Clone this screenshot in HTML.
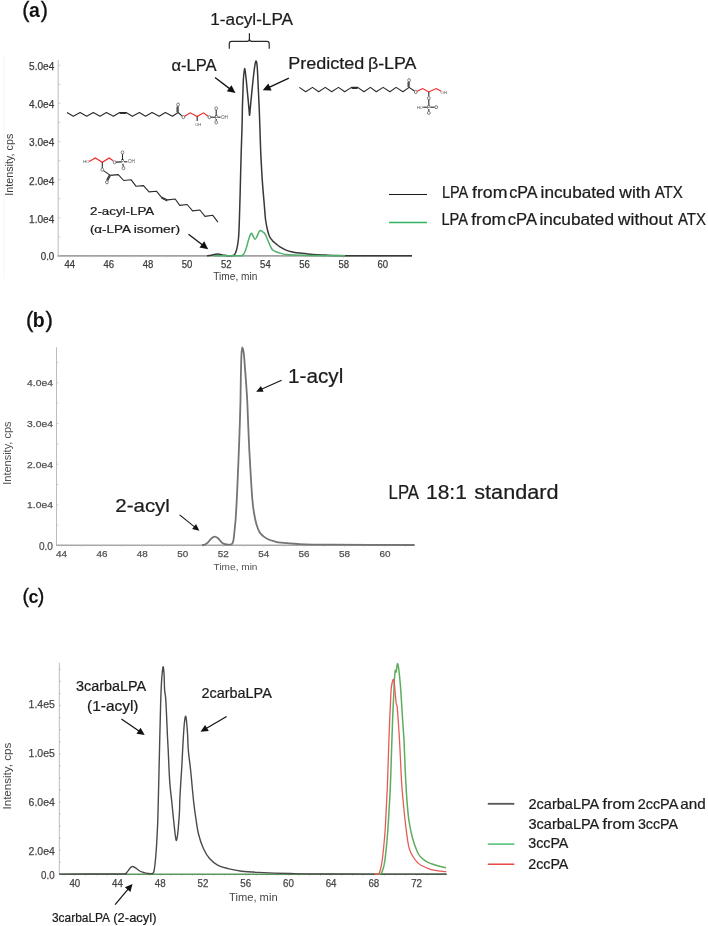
<!DOCTYPE html><html><head><meta charset="utf-8"><style>html,body{margin:0;padding:0;background:#fff;}svg{display:block;filter:blur(0.3px);}text{font-family:"Liberation Sans",sans-serif;}</style></head><body>
<svg width="708" height="926" viewBox="0 0 708 926">
<rect x="0" y="0" width="708" height="926" fill="#fff"/>
<line x1="4" y1="55" x2="4" y2="279" stroke="#f5f5f5" stroke-width="1"/>
<line x1="58.2" y1="60" x2="58.2" y2="256.5" stroke="#c2c2c2" stroke-width="1.1"/>
<line x1="57.6" y1="255.9" x2="412" y2="255.9" stroke="#a2a2a2" stroke-width="1.7"/>
<line x1="58.2" y1="255.8" x2="60.2" y2="255.8" stroke="#c2c2c2" stroke-width="0.8"/>
<line x1="58.2" y1="236.75" x2="60.2" y2="236.75" stroke="#c2c2c2" stroke-width="0.8"/>
<line x1="58.2" y1="217.7" x2="60.2" y2="217.7" stroke="#c2c2c2" stroke-width="0.8"/>
<line x1="58.2" y1="198.65" x2="60.2" y2="198.65" stroke="#c2c2c2" stroke-width="0.8"/>
<line x1="58.2" y1="179.6" x2="60.2" y2="179.6" stroke="#c2c2c2" stroke-width="0.8"/>
<line x1="58.2" y1="160.55" x2="60.2" y2="160.55" stroke="#c2c2c2" stroke-width="0.8"/>
<line x1="58.2" y1="141.5" x2="60.2" y2="141.5" stroke="#c2c2c2" stroke-width="0.8"/>
<line x1="58.2" y1="122.45" x2="60.2" y2="122.45" stroke="#c2c2c2" stroke-width="0.8"/>
<line x1="58.2" y1="103.4" x2="60.2" y2="103.4" stroke="#c2c2c2" stroke-width="0.8"/>
<line x1="58.2" y1="84.35" x2="60.2" y2="84.35" stroke="#c2c2c2" stroke-width="0.8"/>
<line x1="58.2" y1="65.3" x2="60.2" y2="65.3" stroke="#c2c2c2" stroke-width="0.8"/>
<line x1="69.7" y1="255.9" x2="69.7" y2="257.5" stroke="#c2c2c2" stroke-width="0.8"/>
<line x1="89.27" y1="255.9" x2="89.27" y2="257.5" stroke="#c2c2c2" stroke-width="0.8"/>
<line x1="108.84" y1="255.9" x2="108.84" y2="257.5" stroke="#c2c2c2" stroke-width="0.8"/>
<line x1="128.41" y1="255.9" x2="128.41" y2="257.5" stroke="#c2c2c2" stroke-width="0.8"/>
<line x1="147.98" y1="255.9" x2="147.98" y2="257.5" stroke="#c2c2c2" stroke-width="0.8"/>
<line x1="167.55" y1="255.9" x2="167.55" y2="257.5" stroke="#c2c2c2" stroke-width="0.8"/>
<line x1="187.12" y1="255.9" x2="187.12" y2="257.5" stroke="#c2c2c2" stroke-width="0.8"/>
<line x1="206.69" y1="255.9" x2="206.69" y2="257.5" stroke="#c2c2c2" stroke-width="0.8"/>
<line x1="226.26" y1="255.9" x2="226.26" y2="257.5" stroke="#c2c2c2" stroke-width="0.8"/>
<line x1="245.83" y1="255.9" x2="245.83" y2="257.5" stroke="#c2c2c2" stroke-width="0.8"/>
<line x1="265.4" y1="255.9" x2="265.4" y2="257.5" stroke="#c2c2c2" stroke-width="0.8"/>
<line x1="284.97" y1="255.9" x2="284.97" y2="257.5" stroke="#c2c2c2" stroke-width="0.8"/>
<line x1="304.54" y1="255.9" x2="304.54" y2="257.5" stroke="#c2c2c2" stroke-width="0.8"/>
<line x1="324.11" y1="255.9" x2="324.11" y2="257.5" stroke="#c2c2c2" stroke-width="0.8"/>
<line x1="343.68" y1="255.9" x2="343.68" y2="257.5" stroke="#c2c2c2" stroke-width="0.8"/>
<line x1="363.25" y1="255.9" x2="363.25" y2="257.5" stroke="#c2c2c2" stroke-width="0.8"/>
<line x1="382.82" y1="255.9" x2="382.82" y2="257.5" stroke="#c2c2c2" stroke-width="0.8"/>
<line x1="402.39" y1="255.9" x2="402.39" y2="257.5" stroke="#c2c2c2" stroke-width="0.8"/>
<text x="54.3" y="69.9" font-size="10" fill="#3c3c3c" font-weight="normal" text-anchor="end" textLength="25.2" lengthAdjust="spacingAndGlyphs" stroke="#3c3c3c" stroke-width="0.25">5.0e4</text>
<text x="54.3" y="108.2" font-size="10" fill="#3c3c3c" font-weight="normal" text-anchor="end" textLength="25.2" lengthAdjust="spacingAndGlyphs" stroke="#3c3c3c" stroke-width="0.25">4.0e4</text>
<text x="54.3" y="146.3" font-size="10" fill="#3c3c3c" font-weight="normal" text-anchor="end" textLength="25.2" lengthAdjust="spacingAndGlyphs" stroke="#3c3c3c" stroke-width="0.25">3.0e4</text>
<text x="54.3" y="184.5" font-size="10" fill="#3c3c3c" font-weight="normal" text-anchor="end" textLength="25.2" lengthAdjust="spacingAndGlyphs" stroke="#3c3c3c" stroke-width="0.25">2.0e4</text>
<text x="54.3" y="222.6" font-size="10" fill="#3c3c3c" font-weight="normal" text-anchor="end" textLength="25.2" lengthAdjust="spacingAndGlyphs" stroke="#3c3c3c" stroke-width="0.25">1.0e4</text>
<text x="54.3" y="260.4" font-size="10" fill="#3c3c3c" font-weight="normal" text-anchor="end" textLength="13.6" lengthAdjust="spacingAndGlyphs" stroke="#3c3c3c" stroke-width="0.25">0.0</text>
<text x="69.7" y="267.6" font-size="10" fill="#3c3c3c" font-weight="normal" text-anchor="middle" textLength="10.6" lengthAdjust="spacingAndGlyphs" stroke="#3c3c3c" stroke-width="0.25">44</text>
<text x="108.84" y="267.6" font-size="10" fill="#3c3c3c" font-weight="normal" text-anchor="middle" textLength="10.6" lengthAdjust="spacingAndGlyphs" stroke="#3c3c3c" stroke-width="0.25">46</text>
<text x="147.98" y="267.6" font-size="10" fill="#3c3c3c" font-weight="normal" text-anchor="middle" textLength="10.6" lengthAdjust="spacingAndGlyphs" stroke="#3c3c3c" stroke-width="0.25">48</text>
<text x="187.12" y="267.6" font-size="10" fill="#3c3c3c" font-weight="normal" text-anchor="middle" textLength="10.6" lengthAdjust="spacingAndGlyphs" stroke="#3c3c3c" stroke-width="0.25">50</text>
<text x="226.26" y="267.6" font-size="10" fill="#3c3c3c" font-weight="normal" text-anchor="middle" textLength="10.6" lengthAdjust="spacingAndGlyphs" stroke="#3c3c3c" stroke-width="0.25">52</text>
<text x="265.4" y="267.6" font-size="10" fill="#3c3c3c" font-weight="normal" text-anchor="middle" textLength="10.6" lengthAdjust="spacingAndGlyphs" stroke="#3c3c3c" stroke-width="0.25">54</text>
<text x="304.54" y="267.6" font-size="10" fill="#3c3c3c" font-weight="normal" text-anchor="middle" textLength="10.6" lengthAdjust="spacingAndGlyphs" stroke="#3c3c3c" stroke-width="0.25">56</text>
<text x="343.68" y="267.6" font-size="10" fill="#3c3c3c" font-weight="normal" text-anchor="middle" textLength="10.6" lengthAdjust="spacingAndGlyphs" stroke="#3c3c3c" stroke-width="0.25">58</text>
<text x="382.82" y="267.6" font-size="10" fill="#3c3c3c" font-weight="normal" text-anchor="middle" textLength="10.6" lengthAdjust="spacingAndGlyphs" stroke="#3c3c3c" stroke-width="0.25">60</text>
<text x="213.3" y="280" font-size="10.2" fill="#3c3c3c" font-weight="normal" text-anchor="start" textLength="44" lengthAdjust="spacingAndGlyphs">Time, min</text>
<text transform="translate(13.4,195.7) rotate(-90)" x="0" y="0" font-size="10.4" fill="#3c3c3c" textLength="62" lengthAdjust="spacingAndGlyphs">Intensity, cps</text>
<path d="M207,255.8 C207.42,255.77 208.58,255.75 209.5,255.6 C210.42,255.45 211.5,255.12 212.5,254.9 C213.5,254.68 214.58,254.43 215.5,254.3 C216.42,254.17 217.08,254.05 218,254.1 C218.92,254.15 220,254.4 221,254.6 C222,254.8 222.83,255.1 224,255.3 C225.17,255.5 226.5,255.75 228,255.8 C229.5,255.85 231.9,255.8 233,255.6 C234.1,255.4 234.05,255.4 234.6,254.6 C235.15,253.8 235.8,252.4 236.3,250.8 C236.8,249.2 237.22,247.3 237.6,245 C237.98,242.7 238.33,240.33 238.6,237 C238.87,233.67 239.03,229.17 239.2,225 C239.37,220.83 239.45,217 239.6,212 C239.75,207 239.93,201.17 240.1,195 C240.27,188.83 240.43,181.52 240.6,175 C240.77,168.48 240.93,161.73 241.1,155.9 C241.27,150.07 241.43,145.15 241.6,140 C241.77,134.85 241.97,130.33 242.1,125 C242.23,119.67 242.27,113.33 242.4,108 C242.53,102.67 242.73,97.75 242.9,93 C243.07,88.25 243.12,83.57 243.4,79.5 C243.68,75.43 244.17,68.9 244.6,68.6 C245.03,68.3 245.58,74.3 246,77.7 C246.42,81.1 246.73,85.22 247.1,89 C247.47,92.78 247.88,97 248.2,100.4 C248.52,103.8 248.77,106.92 249,109.4 C249.23,111.88 249.38,115.55 249.6,115.3 C249.82,115.05 250,111.02 250.3,107.9 C250.6,104.78 250.97,101 251.4,96.6 C251.83,92.2 252.4,86.17 252.9,81.5 C253.4,76.83 253.9,72.02 254.4,68.6 C254.9,65.18 255.45,61.52 255.9,61 C256.35,60.48 256.78,62.72 257.1,65.5 C257.42,68.28 257.57,73.15 257.8,77.7 C258.03,82.25 258.27,87.77 258.5,92.8 C258.73,97.83 258.98,102.53 259.2,107.9 C259.42,113.27 259.62,119.65 259.8,125 C259.98,130.35 260.12,134.85 260.3,140 C260.48,145.15 260.55,148.92 260.9,155.9 C261.25,162.88 261.83,173.72 262.4,181.9 C262.97,190.08 263.77,198.65 264.3,205 C264.83,211.35 265.07,215.83 265.6,220 C266.13,224.17 266.85,227.25 267.5,230 C268.15,232.75 268.67,234.72 269.5,236.5 C270.33,238.28 271.42,239.48 272.5,240.7 C273.58,241.92 274.75,242.78 276,243.8 C277.25,244.82 278,245.62 280,246.8 C282,247.98 285.17,249.9 288,250.9 C290.83,251.9 294.17,252.35 297,252.8 C299.83,253.25 302.33,253.32 305,253.6 C307.67,253.88 309.67,254.25 313,254.5 C316.33,254.75 321,254.92 325,255.1 C329,255.28 331.17,255.48 337,255.6 C342.83,255.72 347.5,255.77 360,255.8 C372.5,255.83 403.33,255.8 412,255.8" stroke="#383838" stroke-width="1.5" fill="none" stroke-linejoin="round"/>
<path d="M214,255.8 C218.33,255.8 235.28,255.9 240,255.8 C244.72,255.7 241.63,255.57 242.3,255.2 C242.97,254.83 243.47,254.38 244,253.6 C244.53,252.82 245,251.85 245.5,250.5 C246,249.15 246.5,247.25 247,245.5 C247.5,243.75 247.97,241.75 248.5,240 C249.03,238.25 249.68,236.12 250.2,235 C250.72,233.88 251.08,233.05 251.6,233.3 C252.12,233.55 252.73,235.52 253.3,236.5 C253.87,237.48 254.42,239.15 255,239.2 C255.58,239.25 256.18,237.95 256.8,236.8 C257.42,235.65 258.07,233.35 258.7,232.3 C259.33,231.25 259.95,230.58 260.6,230.5 C261.25,230.42 261.95,231.35 262.6,231.8 C263.25,232.25 263.88,232.42 264.5,233.2 C265.12,233.98 265.72,235.25 266.3,236.5 C266.88,237.75 267.42,239.28 268,240.7 C268.58,242.12 269.22,243.7 269.8,245 C270.38,246.3 270.88,247.58 271.5,248.5 C272.12,249.42 272.75,249.95 273.5,250.5 C274.25,251.05 274.92,251.37 276,251.8 C277.08,252.23 278.33,252.65 280,253.1 C281.67,253.55 283.5,254.17 286,254.5 C288.5,254.83 291.17,254.93 295,255.1 C298.83,255.27 301.5,255.38 309,255.5 C316.5,255.62 334,255.75 340,255.8 C346,255.85 344.17,255.8 345,255.8" stroke="#4fb06a" stroke-width="1.5" fill="none" stroke-linejoin="round"/>
<text x="22.3" y="17.2" font-size="21.5" fill="#111" stroke="#111" stroke-width="0.35">(</text>
<text x="28.9" y="17.2" font-size="19.5" fill="#111" font-weight="bold">a</text>
<text x="40.8" y="17.2" font-size="21.5" fill="#111" stroke="#111" stroke-width="0.35">)</text>
<text x="210.3" y="24.6" font-size="16.9" fill="#1c1c1c" font-weight="normal" text-anchor="start" textLength="82.8" lengthAdjust="spacingAndGlyphs" stroke="#1c1c1c" stroke-width="0.22">1-acyl-LPA</text>
<path d="M229.3,48.7 V43.6 Q229.3,41.3 231.6,41.3 H247.1 Q249.4,41.3 249.4,39 V33.3 M249.4,39 Q249.4,41.3 251.7,41.3 H266.9 Q269.2,41.3 269.2,43.6 V48.7" stroke="#2a2a2a" stroke-width="1.2" fill="none"/>
<text x="171.4" y="71.4" font-size="16.3" fill="#1c1c1c" font-weight="normal" text-anchor="start" textLength="45.2" lengthAdjust="spacingAndGlyphs" stroke="#1c1c1c" stroke-width="0.22">&#945;-LPA</text>
<text x="90" y="215" font-size="11.3" fill="#1c1c1c" font-weight="normal" text-anchor="start" textLength="64.2" lengthAdjust="spacingAndGlyphs" stroke="#1c1c1c" stroke-width="0.22">2-acyl-LPA</text>
<line x1="215" y1="77.5" x2="229.93" y2="88.86" stroke="#111" stroke-width="1.3"/>
<path d="M235.5,93.1 L226.77,91.36 L231.5,85.15 Z" fill="#111"/>
<line x1="288.9" y1="78.2" x2="269.06" y2="87.37" stroke="#111" stroke-width="1.3"/>
<path d="M262.7,90.3 L268.33,83.41 L271.6,90.49 Z" fill="#111"/>
<line x1="188.5" y1="234.3" x2="202.62" y2="244.98" stroke="#111" stroke-width="1.3"/>
<path d="M208.2,249.2 L199.47,247.48 L204.17,241.26 Z" fill="#111"/>
<line x1="389" y1="194.5" x2="427" y2="194.5" stroke="#1a1a1a" stroke-width="1.1"/>
<line x1="389" y1="222.5" x2="427" y2="222.5" stroke="#33b35e" stroke-width="1.3"/>
<path d="M67,112.5 L73.3,116.3 L80.1,112.5 L86.7,116.3 L93.3,112.5 L100,116.3 L106.4,112.5 L113.4,116.3 L119.7,112.5 L126.1,112.5 L132.4,116.3 L139.4,112.5 L145.5,116.3 L152.1,112.5 L159.1,116.3 L165.4,112.5 L172.4,116.3 L178.1,112.5" stroke="#2a2a2a" stroke-width="1.1" fill="none" stroke-linejoin="round"/>
<line x1="119.7" y1="113.4" x2="126.1" y2="113.4" stroke="#2a2a2a" stroke-width="1.1"/>
<line x1="178.1" y1="112.5" x2="178.1" y2="106.2" stroke="#2a2a2a" stroke-width="1.1"/>
<line x1="177.1" y1="112" x2="177.1" y2="106.5" stroke="#2a2a2a" stroke-width="1.1"/>
<ellipse cx="178.1" cy="104.6" rx="1.4" ry="1.55" fill="#fff" stroke="#555" stroke-width="0.75"/>
<line x1="178.1" y1="112.5" x2="182.3" y2="116.2" stroke="#2a2a2a" stroke-width="1.1"/>
<ellipse cx="183.4" cy="117.1" rx="1.4" ry="1.55" fill="#fff" stroke="#555" stroke-width="0.75"/>
<path d="M184.7,116.2 L190.2,112.8 L197.2,116.5 L203.5,112.8 L208.2,116.3" stroke="#ee2424" stroke-width="1.1" fill="none"/>
<line x1="197.2" y1="116.5" x2="197.2" y2="121" stroke="#2a2a2a" stroke-width="1.1"/>
<text x="198.2" y="125.6" font-size="4.2" fill="#555" text-anchor="middle">OH</text>
<ellipse cx="209.4" cy="117.2" rx="1.4" ry="1.55" fill="#fff" stroke="#555" stroke-width="0.75"/>
<line x1="210.8" y1="117.2" x2="215" y2="117.2" stroke="#2a2a2a" stroke-width="1.1"/>
<text x="216.2" y="118.8" font-size="4.6" fill="#2a2a2a" text-anchor="middle">P</text>
<line x1="216.2" y1="115.4" x2="216.2" y2="110" stroke="#2a2a2a" stroke-width="1.1"/>
<ellipse cx="216.2" cy="108.4" rx="1.4" ry="1.55" fill="#fff" stroke="#555" stroke-width="0.75"/>
<line x1="216.2" y1="119" x2="216.2" y2="120.8" stroke="#2a2a2a" stroke-width="1.1"/>
<ellipse cx="216.2" cy="122.4" rx="1.4" ry="1.55" fill="#fff" stroke="#555" stroke-width="0.75"/>
<line x1="217.6" y1="117.2" x2="220.6" y2="117.2" stroke="#2a2a2a" stroke-width="1.1"/>
<text x="224.4" y="118.8" font-size="4.6" fill="#555" text-anchor="middle">OH</text>
<path d="M299.3,87.4 L305.7,91.7 L312.5,87.4 L318.7,91.7 L325.3,87.4 L331.7,91.7 L338.5,87.4 L344.7,91.7 L351.5,87.4 L357.7,87.4 L363.9,91.7 L370.4,87.4 L376.3,91.7 L383.1,87.4 L389.9,91.7 L396.1,87.4 L402.9,91.7 L409.1,87.4" stroke="#2a2a2a" stroke-width="1.1" fill="none" stroke-linejoin="round"/>
<line x1="351.5" y1="88.4" x2="357.7" y2="88.4" stroke="#2a2a2a" stroke-width="1.1"/>
<line x1="409.1" y1="87.4" x2="409.1" y2="81.8" stroke="#2a2a2a" stroke-width="1.1"/>
<line x1="408.1" y1="87" x2="408.1" y2="82" stroke="#2a2a2a" stroke-width="1.1"/>
<ellipse cx="409.1" cy="80.2" rx="1.4" ry="1.55" fill="#fff" stroke="#555" stroke-width="0.75"/>
<line x1="409.1" y1="87.4" x2="414.5" y2="91" stroke="#2a2a2a" stroke-width="1.1"/>
<ellipse cx="415.8" cy="92" rx="1.4" ry="1.55" fill="#fff" stroke="#555" stroke-width="0.75"/>
<path d="M417.1,91.2 L422.6,88.6 L428.8,92 L436.2,88.6 L441.2,91.3" stroke="#ee2424" stroke-width="1.1" fill="none"/>
<text x="443.8" y="94" font-size="4.4" fill="#555" text-anchor="middle">OH</text>
<line x1="428.8" y1="92" x2="428.8" y2="96.6" stroke="#2a2a2a" stroke-width="1.1"/>
<ellipse cx="428.8" cy="98.2" rx="1.4" ry="1.55" fill="#fff" stroke="#555" stroke-width="0.75"/>
<line x1="428.8" y1="99.8" x2="428.8" y2="105.3" stroke="#2a2a2a" stroke-width="1.1"/>
<text x="428.8" y="108.8" font-size="4.6" fill="#2a2a2a" text-anchor="middle">P</text>
<line x1="423.2" y1="107.2" x2="427.4" y2="107.2" stroke="#2a2a2a" stroke-width="1.1"/>
<text x="420" y="108.8" font-size="4.4" fill="#555" text-anchor="middle">HO</text>
<line x1="430.2" y1="107.2" x2="434.6" y2="107.2" stroke="#2a2a2a" stroke-width="1.1"/>
<ellipse cx="436.2" cy="107.2" rx="1.4" ry="1.55" fill="#fff" stroke="#555" stroke-width="0.75"/>
<line x1="428.8" y1="109" x2="428.8" y2="111.3" stroke="#2a2a2a" stroke-width="1.1"/>
<ellipse cx="428.8" cy="112.9" rx="1.4" ry="1.55" fill="#fff" stroke="#555" stroke-width="0.75"/>
<text x="86.2" y="163.4" font-size="4.4" fill="#555" text-anchor="middle">HO</text>
<path d="M89.2,161.5 L95.3,158 L102.3,162.3 L109.2,158 L113.2,160.8" stroke="#ee2424" stroke-width="1.1" fill="none"/>
<ellipse cx="114.6" cy="162.3" rx="1.4" ry="1.55" fill="#fff" stroke="#555" stroke-width="0.75"/>
<line x1="116" y1="162.1" x2="121.2" y2="161.9" stroke="#2a2a2a" stroke-width="1.1"/>
<text x="122.5" y="163.4" font-size="4.6" fill="#2a2a2a" text-anchor="middle">P</text>
<line x1="122.5" y1="160" x2="122.5" y2="154" stroke="#2a2a2a" stroke-width="1.1"/>
<ellipse cx="122.5" cy="152.4" rx="1.4" ry="1.55" fill="#fff" stroke="#555" stroke-width="0.75"/>
<line x1="122.8" y1="163.6" x2="123.3" y2="166.6" stroke="#2a2a2a" stroke-width="1.1"/>
<ellipse cx="123.5" cy="168.2" rx="1.4" ry="1.55" fill="#fff" stroke="#555" stroke-width="0.75"/>
<line x1="124" y1="161.8" x2="127.4" y2="161.8" stroke="#2a2a2a" stroke-width="1.1"/>
<text x="131.4" y="163.4" font-size="4.6" fill="#555" text-anchor="middle">OH</text>
<line x1="102.3" y1="162.3" x2="102.3" y2="168.1" stroke="#2a2a2a" stroke-width="1.1"/>
<ellipse cx="102.3" cy="169.6" rx="1.4" ry="1.55" fill="#fff" stroke="#555" stroke-width="0.75"/>
<line x1="103.5" y1="170.6" x2="110.4" y2="175.4" stroke="#2a2a2a" stroke-width="1.1"/>
<line x1="110.4" y1="175.4" x2="107.6" y2="180.7" stroke="#2a2a2a" stroke-width="1.1"/>
<line x1="109.4" y1="175" x2="106.6" y2="180.3" stroke="#2a2a2a" stroke-width="1.1"/>
<ellipse cx="106.9" cy="182.3" rx="1.4" ry="1.55" fill="#fff" stroke="#555" stroke-width="0.75"/>
<path d="M110.4,175.4 L118.3,174.6 L123.7,180.5 L131.2,179.8 L136.1,186.3 L143.5,185.6 L149,191.9 L156.4,191.2 L161.3,197.1 L167.8,199.9 L175.2,199 L179.7,205.4 L187.1,204.5 L192.6,210.9 L199.9,210 L205,216.4 L212.8,215.3 L217.9,222.1" stroke="#2a2a2a" stroke-width="1.1" fill="none" stroke-linejoin="round"/>
<line x1="161.3" y1="198.1" x2="167.3" y2="200.9" stroke="#2a2a2a" stroke-width="1.1"/>
<line x1="56.5" y1="347.3" x2="56.5" y2="545.8" stroke="#bdbdbd" stroke-width="1"/>
<line x1="56" y1="545.2" x2="414.7" y2="545.2" stroke="#a8a8a8" stroke-width="1.5"/>
<line x1="56.5" y1="545.6" x2="58.3" y2="545.6" stroke="#bdbdbd" stroke-width="0.8"/>
<line x1="56.5" y1="525.25" x2="58.3" y2="525.25" stroke="#bdbdbd" stroke-width="0.8"/>
<line x1="56.5" y1="504.9" x2="58.3" y2="504.9" stroke="#bdbdbd" stroke-width="0.8"/>
<line x1="56.5" y1="484.55" x2="58.3" y2="484.55" stroke="#bdbdbd" stroke-width="0.8"/>
<line x1="56.5" y1="464.2" x2="58.3" y2="464.2" stroke="#bdbdbd" stroke-width="0.8"/>
<line x1="56.5" y1="443.85" x2="58.3" y2="443.85" stroke="#bdbdbd" stroke-width="0.8"/>
<line x1="56.5" y1="423.5" x2="58.3" y2="423.5" stroke="#bdbdbd" stroke-width="0.8"/>
<line x1="56.5" y1="403.15" x2="58.3" y2="403.15" stroke="#bdbdbd" stroke-width="0.8"/>
<line x1="56.5" y1="382.8" x2="58.3" y2="382.8" stroke="#bdbdbd" stroke-width="0.8"/>
<line x1="56.5" y1="362.45" x2="58.3" y2="362.45" stroke="#bdbdbd" stroke-width="0.8"/>
<line x1="61.5" y1="545.2" x2="61.5" y2="546.8" stroke="#bdbdbd" stroke-width="0.7"/>
<line x1="81.72" y1="545.2" x2="81.72" y2="546.8" stroke="#bdbdbd" stroke-width="0.7"/>
<line x1="101.94" y1="545.2" x2="101.94" y2="546.8" stroke="#bdbdbd" stroke-width="0.7"/>
<line x1="122.16" y1="545.2" x2="122.16" y2="546.8" stroke="#bdbdbd" stroke-width="0.7"/>
<line x1="142.38" y1="545.2" x2="142.38" y2="546.8" stroke="#bdbdbd" stroke-width="0.7"/>
<line x1="162.6" y1="545.2" x2="162.6" y2="546.8" stroke="#bdbdbd" stroke-width="0.7"/>
<line x1="182.82" y1="545.2" x2="182.82" y2="546.8" stroke="#bdbdbd" stroke-width="0.7"/>
<line x1="203.04" y1="545.2" x2="203.04" y2="546.8" stroke="#bdbdbd" stroke-width="0.7"/>
<line x1="223.26" y1="545.2" x2="223.26" y2="546.8" stroke="#bdbdbd" stroke-width="0.7"/>
<line x1="243.48" y1="545.2" x2="243.48" y2="546.8" stroke="#bdbdbd" stroke-width="0.7"/>
<line x1="263.7" y1="545.2" x2="263.7" y2="546.8" stroke="#bdbdbd" stroke-width="0.7"/>
<line x1="283.92" y1="545.2" x2="283.92" y2="546.8" stroke="#bdbdbd" stroke-width="0.7"/>
<line x1="304.14" y1="545.2" x2="304.14" y2="546.8" stroke="#bdbdbd" stroke-width="0.7"/>
<line x1="324.36" y1="545.2" x2="324.36" y2="546.8" stroke="#bdbdbd" stroke-width="0.7"/>
<line x1="344.58" y1="545.2" x2="344.58" y2="546.8" stroke="#bdbdbd" stroke-width="0.7"/>
<line x1="364.8" y1="545.2" x2="364.8" y2="546.8" stroke="#bdbdbd" stroke-width="0.7"/>
<line x1="385.02" y1="545.2" x2="385.02" y2="546.8" stroke="#bdbdbd" stroke-width="0.7"/>
<line x1="405.24" y1="545.2" x2="405.24" y2="546.8" stroke="#bdbdbd" stroke-width="0.7"/>
<text x="52.9" y="386.3" font-size="9.9" fill="#505050" font-weight="normal" text-anchor="end" textLength="25.8" lengthAdjust="spacingAndGlyphs" stroke="#505050" stroke-width="0.25">4.0e4</text>
<text x="52.9" y="427" font-size="9.9" fill="#505050" font-weight="normal" text-anchor="end" textLength="25.8" lengthAdjust="spacingAndGlyphs" stroke="#505050" stroke-width="0.25">3.0e4</text>
<text x="52.9" y="467.7" font-size="9.9" fill="#505050" font-weight="normal" text-anchor="end" textLength="25.8" lengthAdjust="spacingAndGlyphs" stroke="#505050" stroke-width="0.25">2.0e4</text>
<text x="52.9" y="508.4" font-size="9.9" fill="#505050" font-weight="normal" text-anchor="end" textLength="25.8" lengthAdjust="spacingAndGlyphs" stroke="#505050" stroke-width="0.25">1.0e4</text>
<text x="52.9" y="549.6" font-size="10" fill="#505050" font-weight="normal" text-anchor="end" textLength="14" lengthAdjust="spacingAndGlyphs" stroke="#505050" stroke-width="0.25">0.0</text>
<text x="61.5" y="556.8" font-size="9.6" fill="#505050" font-weight="normal" text-anchor="middle" textLength="11" lengthAdjust="spacingAndGlyphs" stroke="#505050" stroke-width="0.25">44</text>
<text x="101.94" y="556.8" font-size="9.6" fill="#505050" font-weight="normal" text-anchor="middle" textLength="11" lengthAdjust="spacingAndGlyphs" stroke="#505050" stroke-width="0.25">46</text>
<text x="142.38" y="556.8" font-size="9.6" fill="#505050" font-weight="normal" text-anchor="middle" textLength="11" lengthAdjust="spacingAndGlyphs" stroke="#505050" stroke-width="0.25">48</text>
<text x="182.82" y="556.8" font-size="9.6" fill="#505050" font-weight="normal" text-anchor="middle" textLength="11" lengthAdjust="spacingAndGlyphs" stroke="#505050" stroke-width="0.25">50</text>
<text x="223.26" y="556.8" font-size="9.6" fill="#505050" font-weight="normal" text-anchor="middle" textLength="11" lengthAdjust="spacingAndGlyphs" stroke="#505050" stroke-width="0.25">52</text>
<text x="263.7" y="556.8" font-size="9.6" fill="#505050" font-weight="normal" text-anchor="middle" textLength="11" lengthAdjust="spacingAndGlyphs" stroke="#505050" stroke-width="0.25">54</text>
<text x="304.14" y="556.8" font-size="9.6" fill="#505050" font-weight="normal" text-anchor="middle" textLength="11" lengthAdjust="spacingAndGlyphs" stroke="#505050" stroke-width="0.25">56</text>
<text x="344.58" y="556.8" font-size="9.6" fill="#505050" font-weight="normal" text-anchor="middle" textLength="11" lengthAdjust="spacingAndGlyphs" stroke="#505050" stroke-width="0.25">58</text>
<text x="385.02" y="556.8" font-size="9.6" fill="#505050" font-weight="normal" text-anchor="middle" textLength="11" lengthAdjust="spacingAndGlyphs" stroke="#505050" stroke-width="0.25">60</text>
<text x="213.6" y="570" font-size="9.6" fill="#505050" font-weight="normal" text-anchor="start" textLength="43.9" lengthAdjust="spacingAndGlyphs">Time, min</text>
<text transform="translate(11.2,484.8) rotate(-90)" x="0" y="0" font-size="10" fill="#505050" textLength="63.4" lengthAdjust="spacingAndGlyphs">Intensity, cps</text>
<path d="M202,545 C202.47,544.93 203.8,545.05 204.8,544.6 C205.8,544.15 206.93,543.3 208,542.3 C209.07,541.3 210.1,539.55 211.2,538.6 C212.3,537.65 213.47,536.67 214.6,536.6 C215.73,536.53 216.93,537.37 218,538.2 C219.07,539.03 220.1,540.7 221,541.6 C221.9,542.5 222.4,543.12 223.4,543.6 C224.4,544.08 225.65,544.38 227,544.5 C228.35,544.62 230.45,544.88 231.5,544.3 C232.55,543.72 232.8,543.22 233.3,541 C233.8,538.78 234.1,534.8 234.5,531 C234.9,527.2 235.28,524.2 235.7,518.2 C236.12,512.2 236.55,504.37 237,495 C237.45,485.63 237.93,473.67 238.4,462 C238.87,450.33 239.45,435.33 239.8,425 C240.15,414.67 240.33,407.5 240.5,400 C240.67,392.5 240.7,385.68 240.8,380 C240.9,374.32 240.98,370.23 241.1,365.9 C241.22,361.57 241.3,357.08 241.5,354 C241.7,350.92 241.92,347.48 242.3,347.4 C242.68,347.32 243.38,350.42 243.8,353.5 C244.22,356.58 244.47,361.67 244.8,365.9 C245.13,370.13 245.4,373.22 245.8,378.9 C246.2,384.58 246.83,393.15 247.2,400 C247.57,406.85 247.65,411.67 248,420 C248.35,428.33 248.83,440.65 249.3,450 C249.77,459.35 250.28,467.77 250.8,476.1 C251.32,484.43 251.83,493.68 252.4,500 C252.97,506.32 253.52,509.92 254.2,514 C254.88,518.08 255.6,521.45 256.5,524.5 C257.4,527.55 258.43,530.32 259.6,532.3 C260.77,534.28 262.1,535.25 263.5,536.4 C264.9,537.55 266.25,538.4 268,539.2 C269.75,540 271.8,540.62 274,541.2 C276.2,541.78 277.2,542.23 281.2,542.7 C285.2,543.17 289.87,543.67 298,544 C306.13,544.33 310.58,544.53 330,544.7 C349.42,544.87 400.42,544.95 414.5,545" stroke="#747474" stroke-width="1.8" fill="none" stroke-linejoin="round"/>
<text x="26" y="326.8" font-size="22.2" fill="#111" stroke="#111" stroke-width="0.35">(</text>
<text x="32.8" y="326.8" font-size="19.5" fill="#111" font-weight="bold">b</text>
<text x="45.6" y="326.8" font-size="22.2" fill="#111" stroke="#111" stroke-width="0.35">)</text>
<text x="288.1" y="382.6" font-size="19.4" fill="#1c1c1c" font-weight="normal" text-anchor="start" textLength="55.2" lengthAdjust="spacingAndGlyphs" stroke="#1c1c1c" stroke-width="0.22">1-acyl</text>
<text x="115.3" y="512" font-size="18.2" fill="#1c1c1c" font-weight="normal" text-anchor="start" textLength="54.6" lengthAdjust="spacingAndGlyphs" stroke="#1c1c1c" stroke-width="0.22">2-acyl</text>
<line x1="281.6" y1="380.2" x2="261.39" y2="389.32" stroke="#111" stroke-width="1.05"/>
<path d="M256.1,391.7 L261.02,386.08 L263.57,391.73 Z" fill="#111"/>
<line x1="179.6" y1="514.9" x2="194.87" y2="527.08" stroke="#111" stroke-width="1.05"/>
<path d="M199.4,530.7 L192.15,528.88 L196.02,524.04 Z" fill="#111"/>
<line x1="59.3" y1="662.7" x2="59.3" y2="874.6" stroke="#bcbcbc" stroke-width="1"/>
<line x1="59.3" y1="874.4" x2="61" y2="874.4" stroke="#bcbcbc" stroke-width="0.8"/>
<line x1="59.3" y1="862.34" x2="61" y2="862.34" stroke="#bcbcbc" stroke-width="0.8"/>
<line x1="59.3" y1="850.28" x2="61" y2="850.28" stroke="#bcbcbc" stroke-width="0.8"/>
<line x1="59.3" y1="838.22" x2="61" y2="838.22" stroke="#bcbcbc" stroke-width="0.8"/>
<line x1="59.3" y1="826.16" x2="61" y2="826.16" stroke="#bcbcbc" stroke-width="0.8"/>
<line x1="59.3" y1="814.1" x2="61" y2="814.1" stroke="#bcbcbc" stroke-width="0.8"/>
<line x1="59.3" y1="802.04" x2="61" y2="802.04" stroke="#bcbcbc" stroke-width="0.8"/>
<line x1="59.3" y1="789.98" x2="61" y2="789.98" stroke="#bcbcbc" stroke-width="0.8"/>
<line x1="59.3" y1="777.92" x2="61" y2="777.92" stroke="#bcbcbc" stroke-width="0.8"/>
<line x1="59.3" y1="765.86" x2="61" y2="765.86" stroke="#bcbcbc" stroke-width="0.8"/>
<line x1="59.3" y1="753.8" x2="61" y2="753.8" stroke="#bcbcbc" stroke-width="0.8"/>
<line x1="59.3" y1="741.74" x2="61" y2="741.74" stroke="#bcbcbc" stroke-width="0.8"/>
<line x1="59.3" y1="729.68" x2="61" y2="729.68" stroke="#bcbcbc" stroke-width="0.8"/>
<line x1="59.3" y1="717.62" x2="61" y2="717.62" stroke="#bcbcbc" stroke-width="0.8"/>
<line x1="59.3" y1="705.56" x2="61" y2="705.56" stroke="#bcbcbc" stroke-width="0.8"/>
<line x1="59.3" y1="693.5" x2="61" y2="693.5" stroke="#bcbcbc" stroke-width="0.8"/>
<line x1="59.3" y1="681.44" x2="61" y2="681.44" stroke="#bcbcbc" stroke-width="0.8"/>
<line x1="59.3" y1="669.38" x2="61" y2="669.38" stroke="#bcbcbc" stroke-width="0.8"/>
<line x1="64.12" y1="874.2" x2="64.12" y2="875.8" stroke="#bcbcbc" stroke-width="0.7"/>
<line x1="74.8" y1="874.2" x2="74.8" y2="875.8" stroke="#bcbcbc" stroke-width="0.7"/>
<line x1="85.48" y1="874.2" x2="85.48" y2="875.8" stroke="#bcbcbc" stroke-width="0.7"/>
<line x1="96.16" y1="874.2" x2="96.16" y2="875.8" stroke="#bcbcbc" stroke-width="0.7"/>
<line x1="106.84" y1="874.2" x2="106.84" y2="875.8" stroke="#bcbcbc" stroke-width="0.7"/>
<line x1="117.52" y1="874.2" x2="117.52" y2="875.8" stroke="#bcbcbc" stroke-width="0.7"/>
<line x1="128.2" y1="874.2" x2="128.2" y2="875.8" stroke="#bcbcbc" stroke-width="0.7"/>
<line x1="138.88" y1="874.2" x2="138.88" y2="875.8" stroke="#bcbcbc" stroke-width="0.7"/>
<line x1="149.56" y1="874.2" x2="149.56" y2="875.8" stroke="#bcbcbc" stroke-width="0.7"/>
<line x1="160.24" y1="874.2" x2="160.24" y2="875.8" stroke="#bcbcbc" stroke-width="0.7"/>
<line x1="170.92" y1="874.2" x2="170.92" y2="875.8" stroke="#bcbcbc" stroke-width="0.7"/>
<line x1="181.6" y1="874.2" x2="181.6" y2="875.8" stroke="#bcbcbc" stroke-width="0.7"/>
<line x1="192.28" y1="874.2" x2="192.28" y2="875.8" stroke="#bcbcbc" stroke-width="0.7"/>
<line x1="202.96" y1="874.2" x2="202.96" y2="875.8" stroke="#bcbcbc" stroke-width="0.7"/>
<line x1="213.64" y1="874.2" x2="213.64" y2="875.8" stroke="#bcbcbc" stroke-width="0.7"/>
<line x1="224.32" y1="874.2" x2="224.32" y2="875.8" stroke="#bcbcbc" stroke-width="0.7"/>
<line x1="235" y1="874.2" x2="235" y2="875.8" stroke="#bcbcbc" stroke-width="0.7"/>
<line x1="245.68" y1="874.2" x2="245.68" y2="875.8" stroke="#bcbcbc" stroke-width="0.7"/>
<line x1="256.36" y1="874.2" x2="256.36" y2="875.8" stroke="#bcbcbc" stroke-width="0.7"/>
<line x1="267.04" y1="874.2" x2="267.04" y2="875.8" stroke="#bcbcbc" stroke-width="0.7"/>
<line x1="277.72" y1="874.2" x2="277.72" y2="875.8" stroke="#bcbcbc" stroke-width="0.7"/>
<line x1="288.4" y1="874.2" x2="288.4" y2="875.8" stroke="#bcbcbc" stroke-width="0.7"/>
<line x1="299.08" y1="874.2" x2="299.08" y2="875.8" stroke="#bcbcbc" stroke-width="0.7"/>
<line x1="309.76" y1="874.2" x2="309.76" y2="875.8" stroke="#bcbcbc" stroke-width="0.7"/>
<line x1="320.44" y1="874.2" x2="320.44" y2="875.8" stroke="#bcbcbc" stroke-width="0.7"/>
<line x1="331.12" y1="874.2" x2="331.12" y2="875.8" stroke="#bcbcbc" stroke-width="0.7"/>
<line x1="341.8" y1="874.2" x2="341.8" y2="875.8" stroke="#bcbcbc" stroke-width="0.7"/>
<line x1="352.48" y1="874.2" x2="352.48" y2="875.8" stroke="#bcbcbc" stroke-width="0.7"/>
<line x1="363.16" y1="874.2" x2="363.16" y2="875.8" stroke="#bcbcbc" stroke-width="0.7"/>
<line x1="373.84" y1="874.2" x2="373.84" y2="875.8" stroke="#bcbcbc" stroke-width="0.7"/>
<line x1="384.52" y1="874.2" x2="384.52" y2="875.8" stroke="#bcbcbc" stroke-width="0.7"/>
<line x1="395.2" y1="874.2" x2="395.2" y2="875.8" stroke="#bcbcbc" stroke-width="0.7"/>
<line x1="405.88" y1="874.2" x2="405.88" y2="875.8" stroke="#bcbcbc" stroke-width="0.7"/>
<line x1="416.56" y1="874.2" x2="416.56" y2="875.8" stroke="#bcbcbc" stroke-width="0.7"/>
<line x1="427.24" y1="874.2" x2="427.24" y2="875.8" stroke="#bcbcbc" stroke-width="0.7"/>
<line x1="437.92" y1="874.2" x2="437.92" y2="875.8" stroke="#bcbcbc" stroke-width="0.7"/>
<text x="54.8" y="707.7" font-size="10.8" fill="#464646" font-weight="normal" text-anchor="end" textLength="26.2" lengthAdjust="spacingAndGlyphs" stroke="#464646" stroke-width="0.25">1.4e5</text>
<text x="54.8" y="756.7" font-size="10.8" fill="#464646" font-weight="normal" text-anchor="end" textLength="26.2" lengthAdjust="spacingAndGlyphs" stroke="#464646" stroke-width="0.25">1.0e5</text>
<text x="54.8" y="805.8" font-size="10.8" fill="#464646" font-weight="normal" text-anchor="end" textLength="26.2" lengthAdjust="spacingAndGlyphs" stroke="#464646" stroke-width="0.25">6.0e4</text>
<text x="54.8" y="855" font-size="10.8" fill="#464646" font-weight="normal" text-anchor="end" textLength="26.2" lengthAdjust="spacingAndGlyphs" stroke="#464646" stroke-width="0.25">2.0e4</text>
<text x="54.6" y="879.1" font-size="10.8" fill="#464646" font-weight="normal" text-anchor="end" textLength="13.5" lengthAdjust="spacingAndGlyphs" stroke="#464646" stroke-width="0.25">0.0</text>
<text x="74.8" y="886.9" font-size="10.2" fill="#464646" font-weight="normal" text-anchor="middle" textLength="10.8" lengthAdjust="spacingAndGlyphs" stroke="#464646" stroke-width="0.25">40</text>
<text x="117.52" y="886.9" font-size="10.2" fill="#464646" font-weight="normal" text-anchor="middle" textLength="10.8" lengthAdjust="spacingAndGlyphs" stroke="#464646" stroke-width="0.25">44</text>
<text x="160.24" y="886.9" font-size="10.2" fill="#464646" font-weight="normal" text-anchor="middle" textLength="10.8" lengthAdjust="spacingAndGlyphs" stroke="#464646" stroke-width="0.25">48</text>
<text x="202.96" y="886.9" font-size="10.2" fill="#464646" font-weight="normal" text-anchor="middle" textLength="10.8" lengthAdjust="spacingAndGlyphs" stroke="#464646" stroke-width="0.25">52</text>
<text x="245.68" y="886.9" font-size="10.2" fill="#464646" font-weight="normal" text-anchor="middle" textLength="10.8" lengthAdjust="spacingAndGlyphs" stroke="#464646" stroke-width="0.25">56</text>
<text x="288.4" y="886.9" font-size="10.2" fill="#464646" font-weight="normal" text-anchor="middle" textLength="10.8" lengthAdjust="spacingAndGlyphs" stroke="#464646" stroke-width="0.25">60</text>
<text x="331.12" y="886.9" font-size="10.2" fill="#464646" font-weight="normal" text-anchor="middle" textLength="10.8" lengthAdjust="spacingAndGlyphs" stroke="#464646" stroke-width="0.25">64</text>
<text x="373.84" y="886.9" font-size="10.2" fill="#464646" font-weight="normal" text-anchor="middle" textLength="10.8" lengthAdjust="spacingAndGlyphs" stroke="#464646" stroke-width="0.25">68</text>
<text x="416.56" y="886.9" font-size="10.2" fill="#464646" font-weight="normal" text-anchor="middle" textLength="10.8" lengthAdjust="spacingAndGlyphs" stroke="#464646" stroke-width="0.25">72</text>
<text x="229" y="900.5" font-size="10.8" fill="#464646" font-weight="normal" text-anchor="start" textLength="48.6" lengthAdjust="spacingAndGlyphs">Time, min</text>
<text transform="translate(10.8,809.5) rotate(-90)" x="0" y="0" font-size="10.6" fill="#464646" textLength="66.7" lengthAdjust="spacingAndGlyphs">Intensity, cps</text>
<line x1="59.3" y1="874.2" x2="446.6" y2="874.2" stroke="#5a985a" stroke-width="1.4"/>
<path d="M59.3,874.1 C69.42,874.08 109,874.08 120,874 C131,873.92 123.93,874.17 125.3,873.6 C126.67,873.03 127.32,871.6 128.2,870.6 C129.08,869.6 129.88,868.28 130.6,867.6 C131.32,866.92 131.73,866.5 132.5,866.5 C133.27,866.5 134,866.85 135.2,867.6 C136.4,868.35 138.23,870.17 139.7,871 C141.17,871.83 142.6,872.2 144,872.6 C145.4,873 146.67,873.25 148.1,873.4 C149.53,873.55 151.63,873.82 152.6,873.5 C153.57,873.18 153.53,872.75 153.9,871.5 C154.27,870.25 154.5,868.42 154.8,866 C155.1,863.58 155.4,860.5 155.7,857 C156,853.5 156.28,850.33 156.6,845 C156.92,839.67 157.33,831.67 157.6,825 C157.87,818.33 157.88,817.5 158.2,805 C158.52,792.5 159.1,766.67 159.5,750 C159.9,733.33 160.28,716 160.6,705 C160.92,694 161.12,689.5 161.4,684 C161.68,678.5 162,674.87 162.3,672 C162.6,669.13 162.9,666.3 163.2,666.8 C163.5,667.3 163.87,671.13 164.1,675 C164.33,678.87 164.35,686.25 164.6,690 C164.85,693.75 165.28,693.5 165.6,697.5 C165.92,701.5 166.2,707.75 166.5,714 C166.8,720.25 167.12,729 167.4,735 C167.68,741 167.95,744.83 168.2,750 C168.45,755.17 168.62,760.35 168.9,766 C169.18,771.65 169.4,777.73 169.9,783.9 C170.4,790.07 171.28,796.98 171.9,803 C172.52,809.02 173.08,815 173.6,820 C174.12,825 174.63,829.9 175,833 C175.37,836.1 175.57,837.37 175.8,838.6 C176.03,839.83 176.17,840.58 176.4,840.4 C176.63,840.22 176.9,839.4 177.2,837.5 C177.5,835.6 177.82,833.37 178.2,829 C178.58,824.63 179.23,816.13 179.5,811.3 C179.77,806.47 179.6,804.57 179.8,800 C180,795.43 180.35,789.73 180.7,783.9 C181.05,778.07 181.53,771.48 181.9,765 C182.27,758.52 182.52,751.67 182.9,745 C183.28,738.33 183.77,729.8 184.2,725 C184.63,720.2 185.1,716.7 185.5,716.2 C185.9,715.7 186.25,718.87 186.6,722 C186.95,725.13 187.32,730.33 187.6,735 C187.88,739.67 187.8,744.17 188.3,750 C188.8,755.83 189.95,763.83 190.6,770 C191.25,776.17 191.65,781.33 192.2,787 C192.75,792.67 193.3,798.83 193.9,804 C194.5,809.17 195.03,813 195.8,818 C196.57,823 197.25,828.95 198.5,834 C199.75,839.05 201.47,844.22 203.3,848.3 C205.13,852.38 207.05,855.67 209.5,858.5 C211.95,861.33 214.9,863.62 218,865.3 C221.1,866.98 224.15,867.62 228.1,868.6 C232.05,869.58 236.62,870.57 241.7,871.2 C246.78,871.83 250.55,872.02 258.6,872.4 C266.65,872.78 278.1,873.23 290,873.5 C301.9,873.77 303.9,873.9 330,874 C356.1,874.1 427.17,874.08 446.6,874.1" stroke="#4a4a4a" stroke-width="1.4" fill="none" stroke-linejoin="round"/>
<path d="M376,874.1 C376.5,874.08 378.12,874.15 379,874 C379.88,873.85 380.6,874.12 381.3,873.2 C382,872.28 382.62,870.53 383.2,868.5 C383.78,866.47 384.27,864.58 384.8,861 C385.33,857.42 385.9,852.05 386.4,847 C386.9,841.95 387.33,837.2 387.8,830.7 C388.27,824.2 388.77,815.55 389.2,808 C389.63,800.45 390.07,793.07 390.4,785.4 C390.73,777.73 390.95,769.57 391.2,762 C391.45,754.43 391.63,747.83 391.9,740 C392.17,732.17 392.5,722.47 392.8,715 C393.1,707.53 393.42,701.37 393.7,695.2 C393.98,689.03 394.22,682.15 394.5,678 C394.78,673.85 395.12,671.3 395.4,670.3 C395.68,669.3 395.93,672.72 396.2,672 C396.47,671.28 396.75,667.4 397,666 C397.25,664.6 397.45,663.43 397.7,663.6 C397.95,663.77 398.23,665.27 398.5,667 C398.77,668.73 399,671.18 399.3,674 C399.6,676.82 399.95,679.57 400.3,683.9 C400.65,688.23 401.03,694.35 401.4,700 C401.77,705.65 402.18,712.8 402.5,717.8 C402.82,722.8 403.05,726.3 403.3,730 C403.55,733.7 403.72,734.17 404,740 C404.28,745.83 404.67,757.43 405,765 C405.33,772.57 405.62,778.73 406,785.4 C406.38,792.07 406.8,799.07 407.3,805 C407.8,810.93 408.13,815.5 409,821 C409.87,826.5 411.08,832.78 412.5,838 C413.92,843.22 416,849 417.5,852.3 C419,855.6 419.92,856.22 421.5,857.8 C423.08,859.38 424.58,860.55 427,861.8 C429.42,863.05 433.67,864.5 436,865.3 C438.33,866.1 439.33,866.18 441,866.6 C442.67,867.02 445.17,867.6 446,867.8" stroke="#5cad5c" stroke-width="1.5" fill="none" stroke-linejoin="round"/>
<path d="M374,874.2 C374.5,874.18 376.15,874.23 377,874.1 C377.85,873.97 378.48,874.33 379.1,873.4 C379.72,872.47 380.2,870.57 380.7,868.5 C381.2,866.43 381.6,864.58 382.1,861 C382.6,857.42 383.2,852.05 383.7,847 C384.2,841.95 384.67,837.2 385.1,830.7 C385.53,824.2 385.92,815.55 386.3,808 C386.68,800.45 387.08,793.07 387.4,785.4 C387.72,777.73 387.95,769.57 388.2,762 C388.45,754.43 388.62,747.83 388.9,740 C389.18,732.17 389.62,721.67 389.9,715 C390.18,708.33 390.4,704.17 390.6,700 C390.8,695.83 390.83,692.92 391.1,690 C391.37,687.08 391.8,684.27 392.2,682.5 C392.6,680.73 393.12,678.98 393.5,679.4 C393.88,679.82 394.18,682.37 394.5,685 C394.82,687.63 395.12,692.12 395.4,695.2 C395.68,698.28 395.92,701.62 396.2,703.5 C396.48,705.38 396.77,703.75 397.1,706.5 C397.43,709.25 397.8,714.42 398.2,720 C398.6,725.58 399.1,733 399.5,740 C399.9,747 400.22,754.43 400.6,762 C400.98,769.57 401.23,777.4 401.8,785.4 C402.37,793.4 403.25,802.45 404,810 C404.75,817.55 405.53,824.72 406.3,830.7 C407.07,836.68 407.82,842.18 408.6,845.9 C409.38,849.62 410.12,850.98 411,853 C411.88,855.02 412.82,856.42 413.9,858 C414.98,859.58 416.25,861.25 417.5,862.5 C418.75,863.75 419.23,864.37 421.4,865.5 C423.57,866.63 427.73,868.42 430.5,869.3 C433.27,870.18 435.38,870.4 438,870.8 C440.62,871.2 444.83,871.55 446.2,871.7" stroke="#e85a5a" stroke-width="1.3" fill="none" stroke-linejoin="round"/>
<text x="22.6" y="603.4" font-size="19.6" fill="#111" stroke="#111" stroke-width="0.35">(</text>
<text x="28.6" y="603.4" font-size="18" fill="#111" font-weight="bold">c</text>
<text x="37.8" y="603.4" font-size="19.6" fill="#111" stroke="#111" stroke-width="0.35">)</text>
<text x="76" y="691.1" font-size="14" fill="#1c1c1c" font-weight="normal" text-anchor="start" textLength="70.2" lengthAdjust="spacingAndGlyphs" stroke="#1c1c1c" stroke-width="0.22">3carbaLPA</text>
<text x="87.1" y="711.2" font-size="14" fill="#1c1c1c" font-weight="normal" text-anchor="start" textLength="51.4" lengthAdjust="spacingAndGlyphs" stroke="#1c1c1c" stroke-width="0.22">(1-acyl)</text>
<text x="201.4" y="697.5" font-size="14.2" fill="#1c1c1c" font-weight="normal" text-anchor="start" textLength="70.4" lengthAdjust="spacingAndGlyphs" stroke="#1c1c1c" stroke-width="0.22">2carbaLPA</text>
<line x1="121.4" y1="719" x2="139.33" y2="731.24" stroke="#111" stroke-width="1.2"/>
<path d="M144.7,734.9 L136.48,733.65 L140.53,727.7 Z" fill="#111"/>
<line x1="226.6" y1="716.4" x2="206.1" y2="728.5" stroke="#111" stroke-width="1.2"/>
<path d="M200.5,731.8 L205.13,724.89 L208.79,731.09 Z" fill="#111"/>
<line x1="115.1" y1="904.6" x2="128.32" y2="888.88" stroke="#111" stroke-width="1.2"/>
<path d="M132.5,883.9 L130.43,891.96 L124.92,887.32 Z" fill="#111"/>
<line x1="487.8" y1="803.8" x2="514.3" y2="803.8" stroke="#555" stroke-width="1.8"/>
<line x1="487.8" y1="844.1" x2="514.3" y2="844.1" stroke="#2fb35a" stroke-width="1.3"/>
<line x1="487.8" y1="864.2" x2="514.3" y2="864.2" stroke="#e52a2a" stroke-width="1.3"/>
<text x="528.2" y="848.3" font-size="14.2" fill="#1c1c1c" font-weight="normal" text-anchor="start" textLength="40.2" lengthAdjust="spacingAndGlyphs" stroke="#1c1c1c" stroke-width="0.22">3ccPA</text>
<text x="528.2" y="868.5" font-size="14.2" fill="#1c1c1c" font-weight="normal" text-anchor="start" textLength="40.2" lengthAdjust="spacingAndGlyphs" stroke="#1c1c1c" stroke-width="0.22">2ccPA</text>
<text x="441.9" y="198" font-size="15.6" fill="#1c1c1c" font-weight="normal" text-anchor="start" textLength="26.4" lengthAdjust="spacingAndGlyphs" stroke="#1c1c1c" stroke-width="0.22">LPA</text>
<text x="472" y="198" font-size="15.6" fill="#1c1c1c" font-weight="normal" text-anchor="start" textLength="35.4" lengthAdjust="spacingAndGlyphs" stroke="#1c1c1c" stroke-width="0.22">from</text>
<text x="509.2" y="198" font-size="15.6" fill="#1c1c1c" font-weight="normal" text-anchor="start" textLength="28.4" lengthAdjust="spacingAndGlyphs" stroke="#1c1c1c" stroke-width="0.22">cPA</text>
<text x="540.6" y="198" font-size="15.6" fill="#1c1c1c" font-weight="normal" text-anchor="start" textLength="74.6" lengthAdjust="spacingAndGlyphs" stroke="#1c1c1c" stroke-width="0.22">incubated</text>
<text x="619.3" y="198" font-size="15.6" fill="#1c1c1c" font-weight="normal" text-anchor="start" textLength="31.2" lengthAdjust="spacingAndGlyphs" stroke="#1c1c1c" stroke-width="0.22">with</text>
<text x="654.7" y="198" font-size="15.6" fill="#1c1c1c" font-weight="normal" text-anchor="start" textLength="28.2" lengthAdjust="spacingAndGlyphs" stroke="#1c1c1c" stroke-width="0.22">ATX</text>
<text x="441.4" y="225.2" font-size="15.6" fill="#1c1c1c" font-weight="normal" text-anchor="start" textLength="26.6" lengthAdjust="spacingAndGlyphs" stroke="#1c1c1c" stroke-width="0.22">LPA</text>
<text x="471.2" y="225.2" font-size="15.6" fill="#1c1c1c" font-weight="normal" text-anchor="start" textLength="35" lengthAdjust="spacingAndGlyphs" stroke="#1c1c1c" stroke-width="0.22">from</text>
<text x="507.8" y="225.2" font-size="15.6" fill="#1c1c1c" font-weight="normal" text-anchor="start" textLength="29.2" lengthAdjust="spacingAndGlyphs" stroke="#1c1c1c" stroke-width="0.22">cPA</text>
<text x="539.4" y="225.2" font-size="15.6" fill="#1c1c1c" font-weight="normal" text-anchor="start" textLength="74.6" lengthAdjust="spacingAndGlyphs" stroke="#1c1c1c" stroke-width="0.22">incubated</text>
<text x="618.1" y="225.2" font-size="15.6" fill="#1c1c1c" font-weight="normal" text-anchor="start" textLength="54.8" lengthAdjust="spacingAndGlyphs" stroke="#1c1c1c" stroke-width="0.22">without</text>
<text x="678" y="225.2" font-size="15.6" fill="#1c1c1c" font-weight="normal" text-anchor="start" textLength="28" lengthAdjust="spacingAndGlyphs" stroke="#1c1c1c" stroke-width="0.22">ATX</text>
<text x="288.2" y="68.7" font-size="16.2" fill="#1c1c1c" font-weight="normal" text-anchor="start" textLength="76" lengthAdjust="spacingAndGlyphs" stroke="#1c1c1c" stroke-width="0.22">Predicted</text>
<text x="367.9" y="68.7" font-size="16.2" fill="#1c1c1c" font-weight="normal" text-anchor="start" textLength="48.6" lengthAdjust="spacingAndGlyphs" stroke="#1c1c1c" stroke-width="0.22">&#946;-LPA</text>
<text x="388.6" y="499.3" font-size="19.4" fill="#1c1c1c" font-weight="normal" text-anchor="start" textLength="30.4" lengthAdjust="spacingAndGlyphs" stroke="#1c1c1c" stroke-width="0.22">LPA</text>
<text x="426" y="499.3" font-size="19.4" fill="#1c1c1c" font-weight="normal" text-anchor="start" textLength="40.8" lengthAdjust="spacingAndGlyphs" stroke="#1c1c1c" stroke-width="0.22">18:1</text>
<text x="474.3" y="499.3" font-size="19.4" fill="#1c1c1c" font-weight="normal" text-anchor="start" textLength="84.2" lengthAdjust="spacingAndGlyphs" stroke="#1c1c1c" stroke-width="0.22">standard</text>
<text x="528.5" y="808.9" font-size="14.2" fill="#1c1c1c" font-weight="normal" text-anchor="start" textLength="70.8" lengthAdjust="spacingAndGlyphs" stroke="#1c1c1c" stroke-width="0.22">2carbaLPA</text>
<text x="602.5" y="808.9" font-size="14.2" fill="#1c1c1c" font-weight="normal" text-anchor="start" textLength="32.4" lengthAdjust="spacingAndGlyphs" stroke="#1c1c1c" stroke-width="0.22">from</text>
<text x="637.7" y="808.9" font-size="14.2" fill="#1c1c1c" font-weight="normal" text-anchor="start" textLength="40.6" lengthAdjust="spacingAndGlyphs" stroke="#1c1c1c" stroke-width="0.22">2ccPA</text>
<text x="680.3" y="808.9" font-size="14.2" fill="#1c1c1c" font-weight="normal" text-anchor="start" textLength="25.4" lengthAdjust="spacingAndGlyphs" stroke="#1c1c1c" stroke-width="0.22">and</text>
<text x="528.5" y="828.9" font-size="14.2" fill="#1c1c1c" font-weight="normal" text-anchor="start" textLength="70.8" lengthAdjust="spacingAndGlyphs" stroke="#1c1c1c" stroke-width="0.22">3carbaLPA</text>
<text x="602.5" y="828.9" font-size="14.2" fill="#1c1c1c" font-weight="normal" text-anchor="start" textLength="32.4" lengthAdjust="spacingAndGlyphs" stroke="#1c1c1c" stroke-width="0.22">from</text>
<text x="637.9" y="828.9" font-size="14.2" fill="#1c1c1c" font-weight="normal" text-anchor="start" textLength="40.2" lengthAdjust="spacingAndGlyphs" stroke="#1c1c1c" stroke-width="0.22">3ccPA</text>
<text x="52" y="921.6" font-size="12.2" fill="#1c1c1c" font-weight="normal" text-anchor="start" textLength="58" lengthAdjust="spacingAndGlyphs" stroke="#1c1c1c" stroke-width="0.22">3carbaLPA</text>
<text x="113.3" y="921.6" font-size="12.2" fill="#1c1c1c" font-weight="normal" text-anchor="start" textLength="43.2" lengthAdjust="spacingAndGlyphs" stroke="#1c1c1c" stroke-width="0.22">(2-acyl)</text>
<text x="89.9" y="232.6" font-size="11.3" fill="#1c1c1c" font-weight="normal" text-anchor="start" textLength="41" lengthAdjust="spacingAndGlyphs" stroke="#1c1c1c" stroke-width="0.22">(&#945;-LPA</text>
<text x="133.7" y="232.6" font-size="11.3" fill="#1c1c1c" font-weight="normal" text-anchor="start" textLength="46.4" lengthAdjust="spacingAndGlyphs" stroke="#1c1c1c" stroke-width="0.22">isomer)</text>
</svg></body></html>
